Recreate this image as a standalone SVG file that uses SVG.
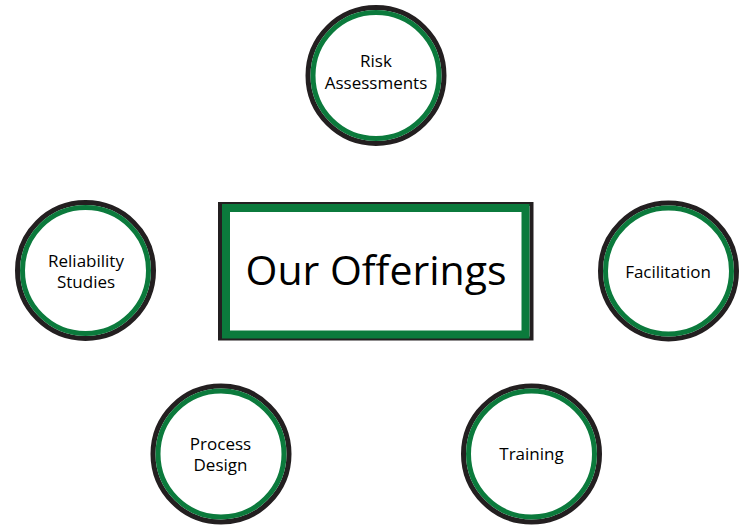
<svg xmlns="http://www.w3.org/2000/svg" width="753" height="531" viewBox="0 0 753 531">
  <style>
    .ring-out { fill: none; stroke: #231f20; stroke-width: 5; }
    .ring-in { fill: #ffffff; stroke: #0b7a3c; stroke-width: 5; }
    .lbl { font-family: "Open Sans", "Noto Sans", sans-serif; font-size: 17px; fill: #000000; text-anchor: middle; }
    .title { font-family: "Open Sans", "Noto Sans", sans-serif; font-size: 41px; fill: #000000; text-anchor: middle; }
  </style>
  <rect width="753" height="531" fill="#ffffff"/>
  <g id="center">
    <rect x="220" y="204" width="311.5" height="134.5" fill="none" stroke="#231f20" stroke-width="4"/>
    <rect x="226" y="208" width="299.5" height="126.5" fill="#ffffff" stroke="#0b7a3c" stroke-width="8"/>
    <text class="title" x="376" y="285">Our Offerings</text>
  </g>
  <g id="risk">
    <circle class="ring-out" cx="376" cy="75.5" r="68"/>
    <circle class="ring-in" cx="376" cy="75.5" r="63"/>
    <text class="lbl" x="376" y="67">Risk</text>
    <text class="lbl" x="376" y="89">Assessments</text>
  </g>
  <g id="reliability">
    <circle class="ring-out" cx="85.5" cy="270.5" r="68"/>
    <circle class="ring-in" cx="85.5" cy="270.5" r="63"/>
    <text class="lbl" x="86" y="266.5">Reliability</text>
    <text class="lbl" x="86" y="287.5">Studies</text>
  </g>
  <g id="facilitation">
    <circle class="ring-out" cx="668.5" cy="271" r="68"/>
    <circle class="ring-in" cx="668.5" cy="271" r="63"/>
    <text class="lbl" x="668" y="277.5">Facilitation</text>
  </g>
  <g id="process">
    <circle class="ring-out" cx="221" cy="454" r="68"/>
    <circle class="ring-in" cx="221" cy="454" r="63"/>
    <text class="lbl" x="220.5" y="450">Process</text>
    <text class="lbl" x="220.5" y="471">Design</text>
  </g>
  <g id="training">
    <circle class="ring-out" cx="531.5" cy="454" r="68"/>
    <circle class="ring-in" cx="531.5" cy="454" r="63"/>
    <text class="lbl" x="531.5" y="460">Training</text>
  </g>
  <g id="connectors"/>
</svg>
